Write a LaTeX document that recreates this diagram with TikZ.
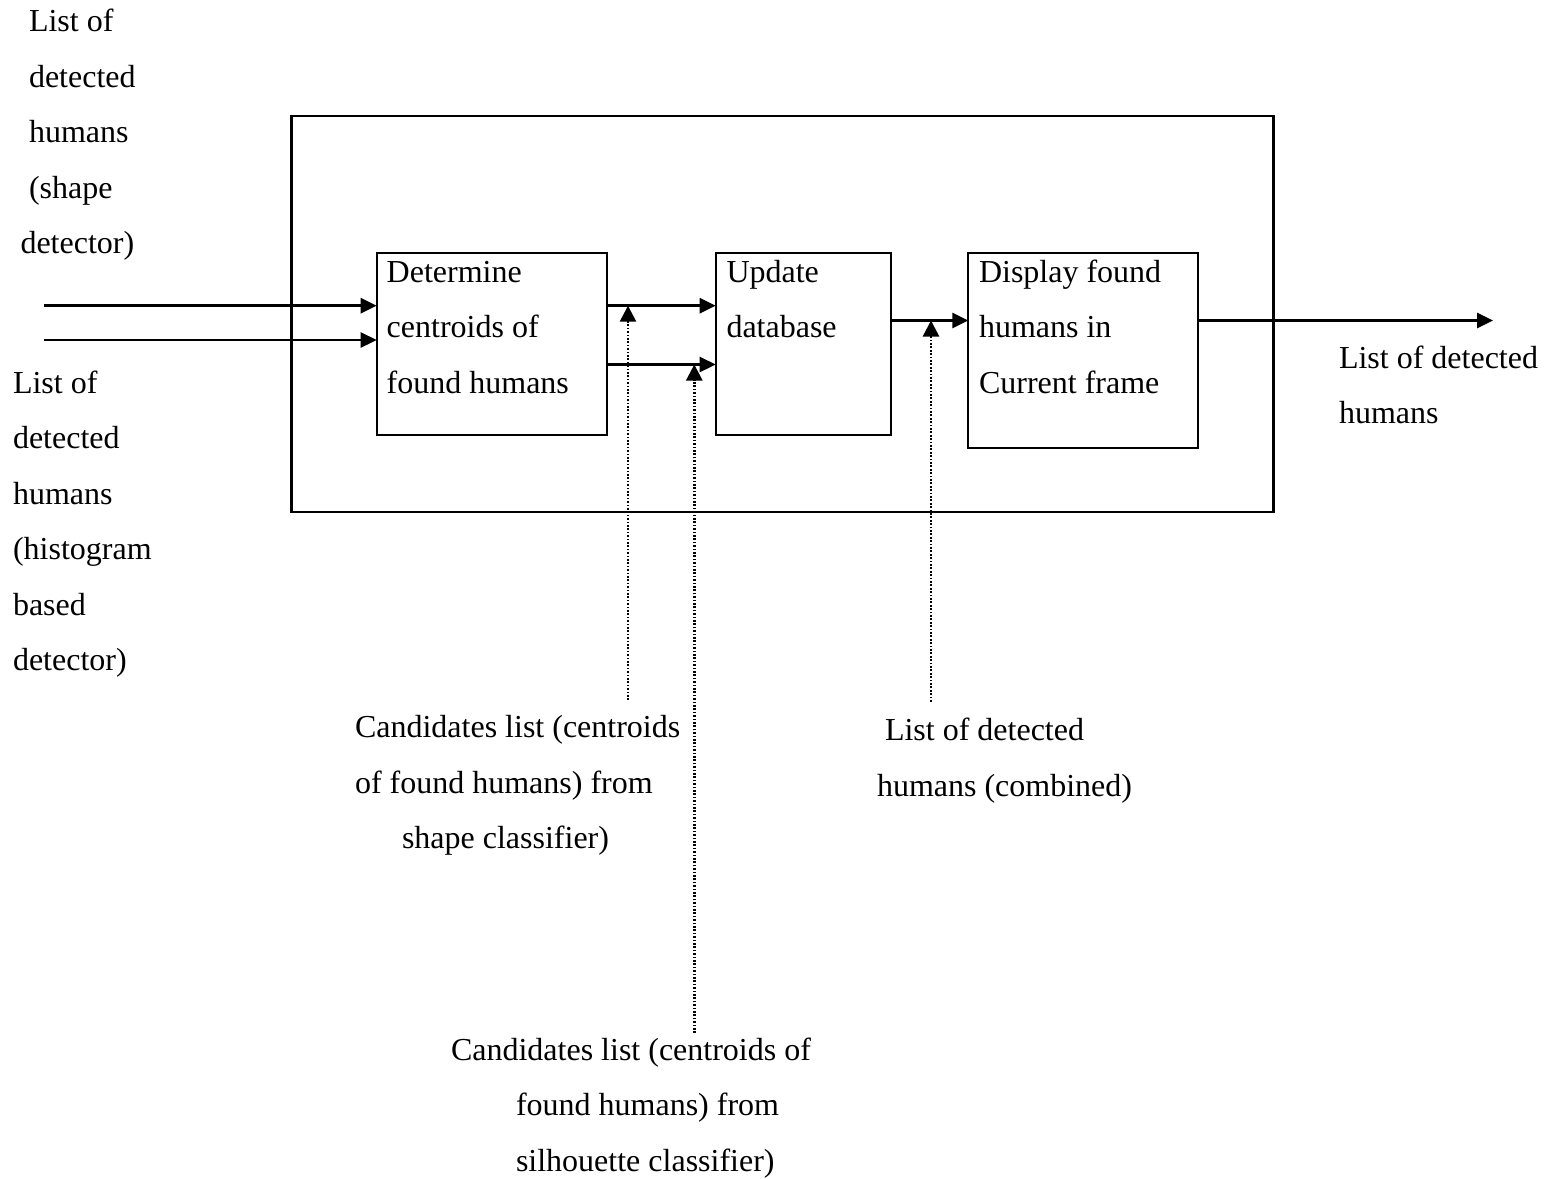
\documentclass[tikz,border=0pt]{standalone}
\usepackage{fontspec}
\setmainfont{Liberation Serif}
\usetikzlibrary{arrows.meta}
% stack of left-aligned lines whose baseline is the first line
\newcommand\txtlines[1]{\begin{tabular}[t]{@{}l@{}}#1\end{tabular}}
\begin{document}
\begin{tikzpicture}[x=1pt,y=-1pt,
  every node/.style={inner sep=0pt, outer sep=0pt},
  txt/.style={anchor=base west, font=\fontsize{32}{55.5}\selectfont},
  block/.style={draw, line width=2.3pt, anchor=north west},
  arr/.style={line width=2.6pt, -{Triangle[length=16pt,width=15pt]}},
  dotarr/.style={line width=2.5pt, dash pattern=on 1.7pt off 1.7pt,
                 -{Triangle[length=16pt,width=16pt]}}]
\useasboundingbox (0,0) rectangle (1547,1178);

% enclosing frame and the three processing blocks
\node[block, minimum width=982pt, minimum height=396pt] (frame) at (291.5,116) {};
\node[block, minimum width=230.6pt, minimum height=182.3pt] (b1) at (376.7,252.7) {};
\node[block, minimum width=175.3pt, minimum height=182.3pt] (b2) at (715.7,252.7) {};
\node[block, minimum width=230pt, minimum height=195.6pt] (b3) at (968.3,252.7) {};

\node[txt] (t1) at (386.7,282.3) {\txtlines{Determine\\centroids of\\found humans}};
\node[txt] (t2) at (726.5,282.3) {\txtlines{Update\\database}};
\node[txt] (t3) at (979,282.3) {\txtlines{Display found\\humans in\\Current frame}};

% external labels
\node[txt] (inShape) at (29,31.5) {\txtlines{List of\\detected\\humans\\(shape\\\hspace*{-8.5pt}detector)}};
\node[txt] (inHist) at (13,393) {\txtlines{List of\\detected\\humans\\(histogram\\based\\detector)}};
\node[txt] (outList) at (1339,368) {\txtlines{List of detected\\humans}};
\node[txt] (candShape) at (355,737.5) {\txtlines{Candidates list (centroids\\of found humans) from\\\hspace*{47pt}shape classifier)}};
\node[txt] (candSil) at (451,1060) {\txtlines{Candidates list (centroids of\\\hspace*{65pt}found humans) from\\\hspace*{65pt}silhouette classifier)}};
\node[txt] (combined) at (877,740.7) {\txtlines{\hspace*{8pt}List of detected\\humans (combined)}};

% connector ends
\coordinate (inA) at (44,305.7);
\coordinate (inB) at (44,340);
\coordinate (midLow) at (607,364.5);
\coordinate (outY) at (891,320.5);
\coordinate (outEnd) at (1493,320.5);
\coordinate (d1) at (628,700);
\coordinate (d2) at (694.3,1033);
\coordinate (d3) at (931,701.7);

% data flow
\draw[arr] (inA) -- (inA -| b1.west);
\draw[arr] (inB) -- (inB -| b1.west);
\draw[arr] (b1.east |- inA) -- (b2.west |- inA);
\draw[arr] (b1.east |- midLow) -- (b2.west |- midLow);
\draw[arr] (b2.east |- outY) -- (b3.west |- outY);
\draw[arr] (b3.east |- outY) -- (outEnd);

% candidate lists feeding in
\draw[dotarr] (d1) -- (d1 |- inA);
\draw[dotarr] (d2) -- (d2 |- midLow);
\draw[dotarr] (d3) -- (d3 |- outY);
\end{tikzpicture}
\end{document}
